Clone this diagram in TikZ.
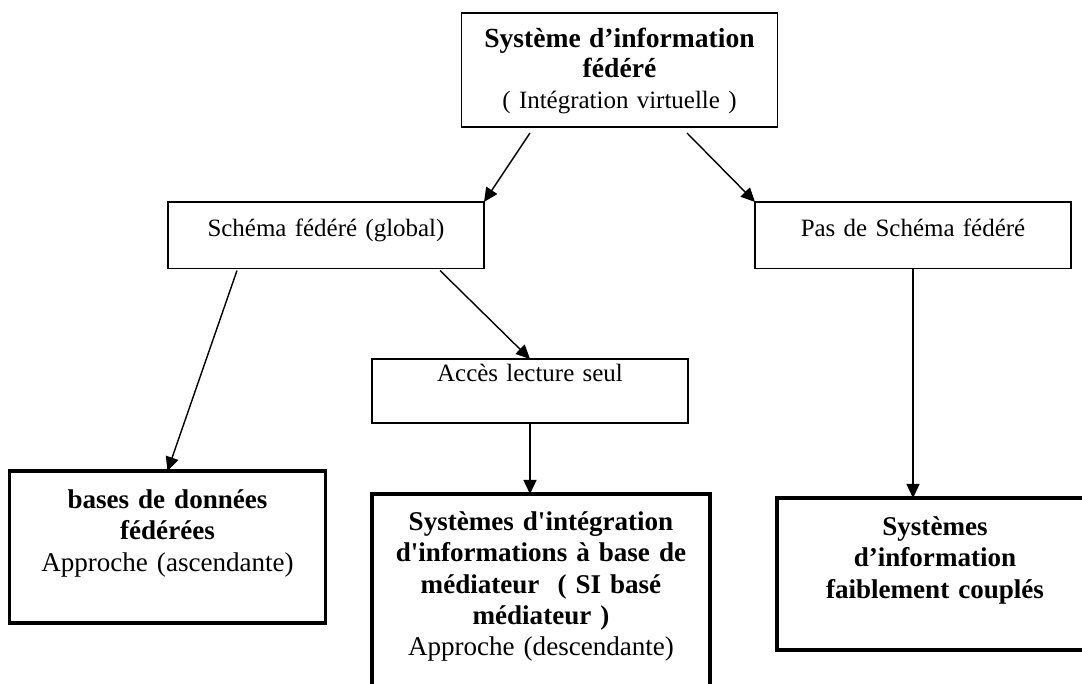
\documentclass[tikz,border=0pt]{standalone}
\usepackage{fontspec}
\setmainfont{Liberation Serif}
\usetikzlibrary{arrows.meta}

\begin{document}
\begin{tikzpicture}[
  font=\fontsize{14.2}{16}\selectfont,
  box/.style={draw, anchor=north, align=center, text width=6.0cm,
              minimum width=6.32cm, inner xsep=0.08cm, inner ysep=0.04cm,
              outer sep=0pt},
  thinbox/.style={box, line width=0.85pt},
  thickbox/.style={box, line width=1.9pt, font=\fontsize{15.4}{17.9}\selectfont},
  arr/.style={-{Triangle[length=0.28cm,width=0.26cm]}, line width=0.8pt}
]
\path[use as bounding box, clip] (0,0) rectangle (21.64,13.68);

\node[thinbox, minimum height=2.28cm, text depth=1.30cm,
      font=\fontsize{14.2}{15.4}\selectfont] (sif) at (12.39,13.42)
  {{\fontsize{15.7}{15.4}\selectfont\bfseries Système d’information\\[2pt] fédéré}\\[2pt] ( Intégration virtuelle )};

\node[thinbox, minimum height=1.33cm, text depth=0.31cm] (sch) at (6.52,9.64) {Schéma fédéré (global)};
\node[thinbox, minimum height=1.33cm, text depth=0.31cm] (nosch) at (18.26,9.64) {Pas de Schéma fédéré};
\node[thinbox, minimum height=1.28cm, text depth=0.71cm] (lect) at (10.60,6.50) {Accès lecture seul};

\node[thickbox, minimum height=3.04cm, text depth=1.93cm] (bdd) at (3.35,4.26)
  {\textbf{bases de données}\\ \textbf{fédérées}\\ Approche (ascendante)};
\node[thickbox, minimum width=6.76cm, minimum height=4.52cm, text depth=3.45cm] (med) at (10.82,3.80)
  {\textbf{Systèmes d\textquotesingle intégration}\\ \textbf{d\textquotesingle informations à base de}\\
   \textbf{médiateur \ ( SI basé}\\ \textbf{médiateur )}\\ Approche (descendante)};
\node[thickbox, minimum height=3.04cm, text depth=1.93cm] (sifc) at (18.70,3.72)
  {\textbf{Systèmes}\\ \textbf{d’information}\\ \textbf{faiblement couplés}};

\draw[arr] ([xshift=-1.79cm,yshift=-0.12cm]sif.south) -- (sch.north east);
\draw[arr] ([xshift=1.35cm,yshift=-0.12cm]sif.south) -- (nosch.north west);
\draw[arr] ([xshift=-1.78cm,yshift=-0.04cm]sch.south) -- (bdd.north);
\draw[arr] ([xshift=2.28cm,yshift=-0.04cm]sch.south) -- (lect.north);
\draw[arr] (lect.south) -- (lect.south |- med.north);
\draw[arr] (nosch.south) -- (nosch.south |- sifc.north);
\end{tikzpicture}
\end{document}
